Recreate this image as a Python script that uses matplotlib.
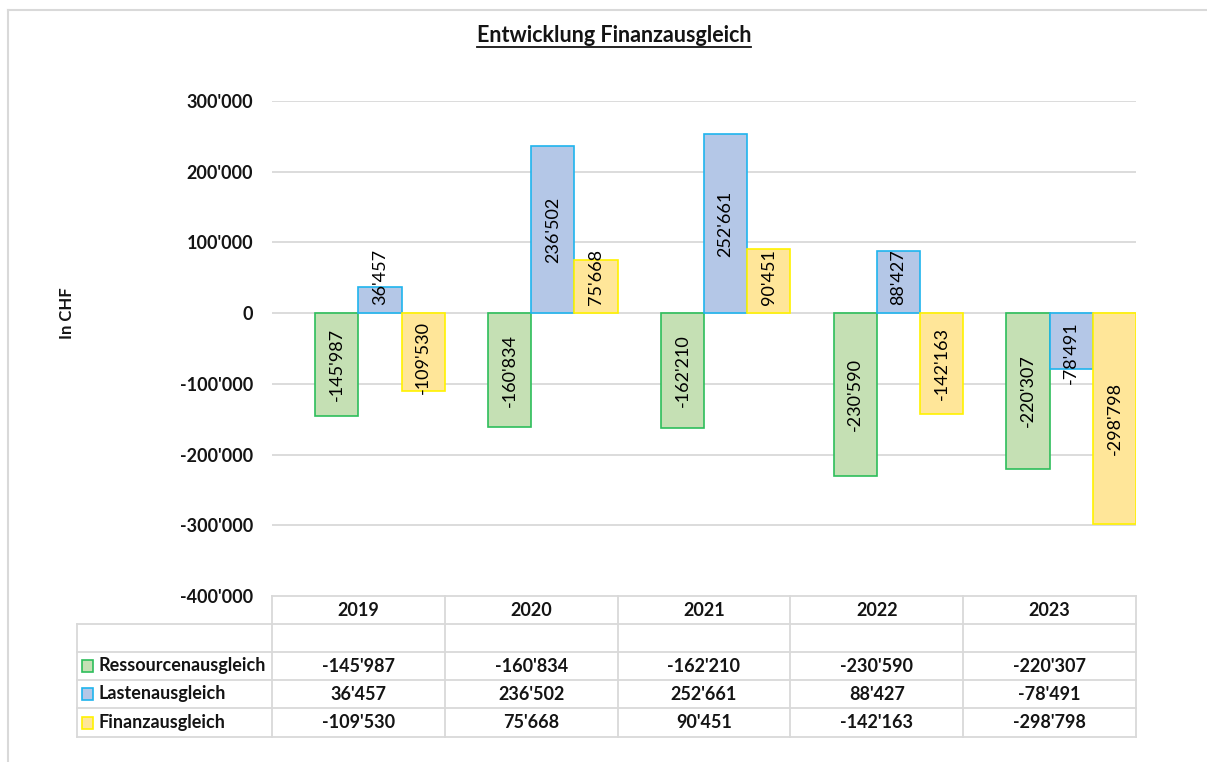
import matplotlib.pyplot as plt
from matplotlib.patches import Rectangle
from matplotlib.lines import Line2D
from matplotlib.transforms import blended_transform_factory

plt.rcParams['font.family'] = ['Lato', 'DejaVu Sans']

years = ["2019", "2020", "2021", "2022", "2023"]
ressourcen = [-145987, -160834, -162210, -230590, -220307]
lasten = [36457, 236502, 252661, 88427, -78491]
finanz = [-109530, 75668, 90451, -142163, -298798]
series_names = ["Ressourcenausgleich", "Lastenausgleich", "Finanzausgleich"]
yticks = [-400000, -300000, -200000, -100000, 0, 100000, 200000, 300000]

faces = ["#C5E0B4", "#B4C7E7", "#FFE699"]
edges = ["#2DBE5B", "#1FB4EE", "#FFF200"]
grid_col = "#D9D9D9"
txt_col = "#141414"

W, H = 1207, 762


def fx(px):
    return px / W


def fy(py):
    return 1 - py / H


def fmt(v):
    s = f"{abs(v):,}".replace(",", "'")
    return "-" + s if v < 0 else s


fig = plt.figure(figsize=(W / 100, H / 100), dpi=100)

# outer chart border (only top/left visible in the crop)
fig.add_artist(Line2D([fx(8), 1.0], [fy(10), fy(10)], transform=fig.transFigure, color="#D9D9D9", lw=1.5))
fig.add_artist(Line2D([fx(8), fx(8)], [fy(10), 0.0], transform=fig.transFigure, color="#D9D9D9", lw=1.5))

ax = fig.add_axes([fx(272), fy(596), fx(1136) - fx(272), fy(101) - fy(596)])
ax.set_xlim(-0.5, len(years) - 0.5)
ax.set_ylim(-400000, 300000)
for s in ax.spines.values():
    s.set_visible(False)
ax.set_xticks([])
ax.set_yticks(yticks)
ax.set_yticklabels([fmt(t) for t in yticks], fontsize=13, fontweight="bold", color=txt_col)
ax.tick_params(axis="y", length=0, pad=13.5)
for t in yticks[1:]:
    ax.axhline(t, color=grid_col, lw=1.3, zorder=0)

ax.set_ylabel("In CHF", fontsize=12, fontweight="bold", color=txt_col)
ax.yaxis.set_label_coords((75 - 272) / 864, (596 - 313) / 495, transform=ax.transAxes)

# an empty (hidden) series sits in the first slot, so the bars are shifted right
width = 0.25
offsets = [-0.125, 0.125, 0.375]
all_series = [ressourcen, lasten, finanz]
texts = []
for i, vals in enumerate(all_series):
    xs = [k + offsets[i] for k in range(len(years))]
    ax.bar(xs, vals, width=width, color=faces[i], edgecolor=edges[i], lw=1.2, zorder=2)
    for x, v in zip(xs, vals):
        t = ax.text(x, v / 2, fmt(v), rotation=90, ha="center", va="center",
                    fontsize=13, color="black", zorder=3)
        texts.append((t, x, v))

# shift labels that do not fit inside short bars (keep clear of the zero line)
renderer = fig.canvas.get_renderer()
y0 = ax.transData.transform((0, 0))[1]
pad = 8
for t, x, v in texts:
    bb = t.get_window_extent(renderer=renderer)
    L = bb.height
    yc = ax.transData.transform((0, v / 2))[1]
    if v > 0:
        yc = max(yc, y0 + pad + L / 2)
    else:
        yc = min(yc, y0 - pad - L / 2)
    t.set_position((x, ax.transData.inverted().transform((0, yc))[1]))

# title with underline
title = fig.text(fx(614), fy(35), "Entwicklung Finanzausgleich", ha="center", va="center",
                 fontsize=15.5, fontweight="bold", color=txt_col)
tb = title.get_window_extent(renderer=renderer)
fig.add_artist(Line2D([tb.x0 / W, tb.x1 / W], [fy(47), fy(47)], transform=fig.transFigure,
                      color=txt_col, lw=1.3))

# data table below the chart
tr = blended_transform_factory(ax.transData, fig.transFigure)
row_lines = [596, 624, 652, 680, 708, 737]
lkw = dict(color=grid_col, lw=1.3, transform=fig.transFigure)
fig.add_artist(Line2D([fx(272), fx(1136)], [fy(596), fy(596)], **lkw))
for ry in row_lines[1:]:
    fig.add_artist(Line2D([fx(77), fx(1136)], [fy(ry), fy(ry)], **lkw))
fig.add_artist(Line2D([fx(77), fx(77)], [fy(624), fy(737)], **lkw))
for k in range(len(years) + 1):
    xb = ax.transData.transform((k - 0.5, 0))[0] / W
    fig.add_artist(Line2D([xb, xb], [fy(596), fy(737)], **lkw))

for k, yr in enumerate(years):
    fig.text(k, fy(610), yr, transform=tr, ha="center", va="center",
             fontsize=13, fontweight="bold", color=txt_col)

for i, (name, vals) in enumerate(zip(series_names, all_series)):
    cy = (row_lines[i + 2] + row_lines[i + 3]) / 2
    fig.add_artist(Rectangle((fx(82), fy(cy + 6)), fx(11), fy(cy - 6) - fy(cy + 6),
                             transform=fig.transFigure, facecolor=faces[i],
                             edgecolor=edges[i], lw=1.2))
    fig.text(fx(99), fy(cy), name, ha="left", va="center", fontsize=13,
             fontweight="bold", color=txt_col)
    for k, v in enumerate(vals):
        fig.text(k, fy(cy), fmt(v), transform=tr, ha="center", va="center",
                 fontsize=13, fontweight="bold", color=txt_col)

fig.savefig("out.png", dpi=100, facecolor="white")
